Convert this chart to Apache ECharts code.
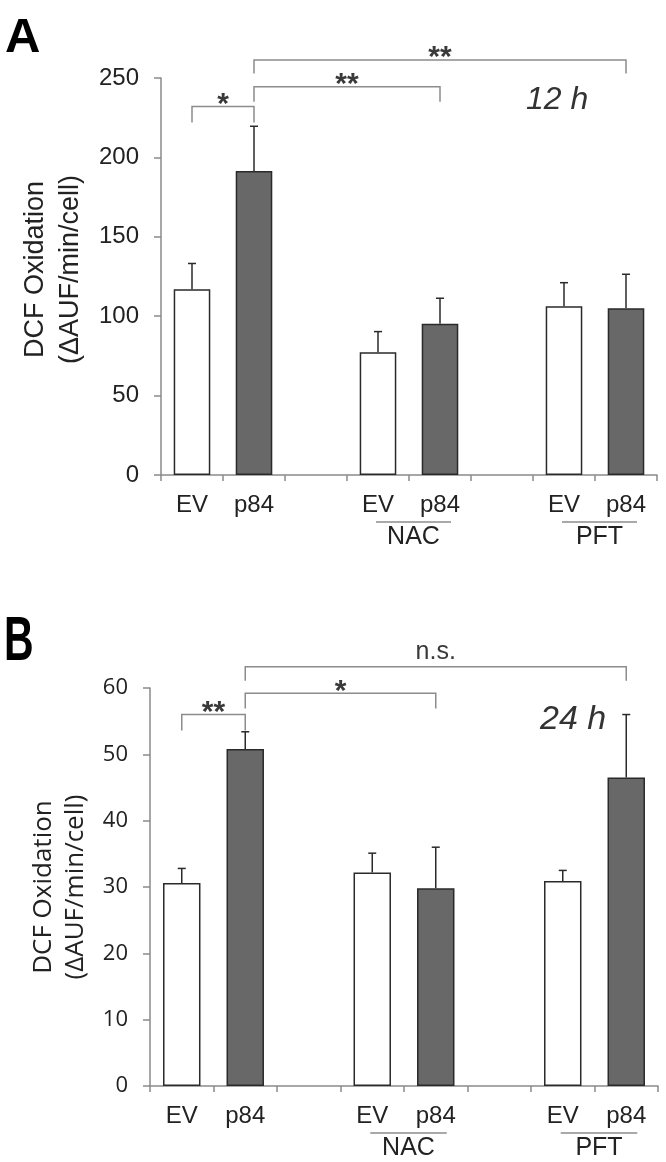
<!DOCTYPE html>
<html><head><meta charset="utf-8">
<script src="https://cdn.jsdelivr.net/npm/echarts@6/dist/echarts.min.js"></script>
<style>html,body{margin:0;padding:0;background:#fff}#c{width:666px;height:1162px}</style>
</head><body><div id="c"></div>
<script>
// ---- data ----
const categories = ['EV', 'p84', '', 'EV', 'p84', '', 'EV', 'p84'];
const meansA = [117.0, 191.5, null, 77.3, 95.3, null, 106.2, 105.0];
const semA   = [16.2, 28.1, null, 13.0, 16.0, null, 14.9, 21.4];
const meansB = [30.6, 50.8, null, 32.2, 29.8, null, 30.9, 46.5];
const semB   = [2.2, 2.6, null, 2.9, 6.2, null, 1.6, 9.5];
const yMaxA = 250, yStepA = 50;
const yMaxB = 60, yStepB = 10;
// significance brackets (category indices, bracket height, leg end, label)
const sigFromA = [0, 1, 1];
const sigToA = [1, 4, 7];
const sigYA = [232, 244.5, 261.3];
const sigDropA = [222, 235, 252.8];
const sigLabelA = ['*', '**', '**'];
const sigFromB = [0, 1, 1];
const sigToB = [1, 4, 7];
const sigYB = [56.0, 59.2, 63.2];
const sigDropB = [53.6, 56.9, 61.1];
const sigLabelB = ['**', '*', 'n.s.'];
// treatment groups under the axis
const groupLabels = ['NAC', 'PFT'];
const groupFrom = [3, 6];
const groupTo = [4, 7];
const timeA = '12 h', timeB = '24 h';
const yTitle = 'DCF Oxidation\n(\u0394AUF/min/cell)';

// ---- styles ----
const ARIAL = "'Liberation Sans', Arial, sans-serif";
const OPEN = "'Open Sans', 'Liberation Sans', sans-serif";
const axisGrey = '#8a8a8a';
const txt = '#222';

function xAxisDef(gi) {
  return {
    type: 'category', gridIndex: gi, data: categories,
    axisLine: {show: true, lineStyle: {color: axisGrey, width: 1.5}},
    axisTick: {show: true, interval: 0, length: 6, lineStyle: {color: axisGrey, width: 1.5}},
    axisLabel: {interval: 0, margin: 18, fontFamily: ARIAL, fontSize: 24, color: txt},
    splitLine: {show: false}
  };
}
function yAxisDef(gi, max, step, labelFont, labelSize, nameFont, nameSize, lh, gap, pad) {
  return {
    type: 'value', gridIndex: gi, min: 0, max: max, interval: step,
    axisLine: {show: true, lineStyle: {color: axisGrey, width: 1.5}},
    axisTick: {show: true, length: 7, lineStyle: {color: axisGrey, width: 1.5}},
    axisLabel: {margin: 22, fontFamily: labelFont, fontSize: labelSize, color: txt},
    splitLine: {show: false},
    name: yTitle, nameLocation: 'middle', nameGap: gap,
    nameTextStyle: {fontFamily: nameFont, fontSize: nameSize, lineHeight: lh, color: txt, align: 'center', padding: pad}
  };
}
function barSeries(idx, means) {
  return {
    type: 'bar', xAxisIndex: idx, yAxisIndex: idx, data: means, barWidth: '59%',
    itemStyle: {
      color: p => categories[p.dataIndex] === 'EV' ? '#ffffff' : '#686868',
      borderColor: '#2a2a2a', borderWidth: 1.5
    },
    silent: true, z: 2
  };
}
function errSeries(idx, means, sems) {
  const data = [];
  means.forEach((m, i) => { if (m != null) data.push([i, m, m + sems[i]]); });
  return {
    type: 'custom', xAxisIndex: idx, yAxisIndex: idx, data: data, z: 4, silent: true,
    encode: {x: 0, y: [1, 2]},
    renderItem: (params, api) => {
      const b = api.coord([api.value(0), api.value(1)]);
      const t = api.coord([api.value(0), api.value(2)]);
      return {type: 'group', children: [
        {type: 'line', shape: {x1: b[0], y1: b[1], x2: t[0], y2: t[1]}, style: {stroke: '#2a2a2a', lineWidth: 1.5}},
        {type: 'line', shape: {x1: t[0] - 4, y1: t[1], x2: t[0] + 4, y2: t[1]}, style: {stroke: '#2a2a2a', lineWidth: 1.5}}
      ]};
    }
  };
}
function sigSeries(idx, from, to, ys, drops, labels) {
  return {
    type: 'custom', xAxisIndex: idx, yAxisIndex: idx, clip: false, silent: true, z: 5,
    data: from.map((f, i) => [f, to[i], ys[i], drops[i]]),
    encode: {x: [0, 1], y: [2, 3]},
    renderItem: (params, api) => {
      const i = params.dataIndex;
      const p1 = api.coord([api.value(0), api.value(2)]);
      const p2 = api.coord([api.value(1), api.value(2)]);
      const d = api.coord([api.value(0), api.value(3)])[1];
      const lab = labels[i];
      const star = lab.indexOf('*') >= 0;
      return {type: 'group', children: [
        {type: 'polyline', shape: {points: [[p1[0], d], [p1[0], p1[1]], [p2[0], p1[1]], [p2[0], d]]},
          style: {stroke: '#8c8c8c', lineWidth: 1.5, fill: null}},
        {type: 'text', x: (p1[0] + p2[0]) / 2, y: star ? p1[1] - 2 : p1[1] - 2,
          style: {text: lab, fill: '#3a3a3a', font: (star ? 'bold 30px ' : '25px ') + ARIAL,
            align: 'center', verticalAlign: star ? 'middle' : 'bottom'}}
      ]};
    }
  };
}
function groupSeries(idx) {
  return {
    type: 'custom', xAxisIndex: idx, yAxisIndex: idx, clip: false, silent: true, z: 5,
    data: groupFrom.map((f, i) => [f, groupTo[i], 0]),
    encode: {x: [0, 1], y: 2},
    renderItem: (params, api) => {
      const i = params.dataIndex;
      const a = api.coord([api.value(0), 0]);
      const b = api.coord([api.value(1), 0]);
      const x1 = a[0] - 2, x2 = b[0] + 11;
      const y0 = a[1];
      return {type: 'group', children: [
        {type: 'line', shape: {x1: x1, y1: y0 + 47, x2: x2, y2: y0 + 47}, style: {stroke: '#555', lineWidth: 1.2}},
        {type: 'text', x: (x1 + x2) / 2, y: y0 + 62,
          style: {text: groupLabels[i], fill: txt, font: '25px ' + ARIAL, align: 'center', verticalAlign: 'middle'}}
      ]};
    }
  };
}

const chart = echarts.init(document.getElementById('c'), null, {renderer: 'canvas'});
chart.setOption({
  animation: false,
  backgroundColor: '#fff',
  grid: [
    {left: 161, top: 78, width: 496, height: 397},
    {left: 150, top: 688, width: 508, height: 398}
  ],
  xAxis: [xAxisDef(0), xAxisDef(1)],
  yAxis: [
    yAxisDef(0, yMaxA, yStepA, ARIAL, 24, ARIAL, 27, 35, 69, [0, 0, 0, 14]),
    yAxisDef(1, yMaxB, yStepB, OPEN, 22, OPEN, 26, 32, 57, [0, 0, 0, 0])
  ],
  series: [
    barSeries(0, meansA), errSeries(0, meansA, semA), sigSeries(0, sigFromA, sigToA, sigYA, sigDropA, sigLabelA), groupSeries(0),
    barSeries(1, meansB), errSeries(1, meansB, semB), sigSeries(1, sigFromB, sigToB, sigYB, sigDropB, sigLabelB), groupSeries(1)
  ],
  graphic: [
    {type: 'text', left: 5, top: 14, style: {text: 'A', font: 'bold 49px ' + ARIAL, fill: '#000'}},
    {type: 'text', x: 4, y: 643, scaleX: 0.65, style: {text: 'B', font: 'bold 63px ' + ARIAL, fill: '#000', verticalAlign: 'middle'}},
    {type: 'text', x: 526, y: 100, style: {text: timeA, font: 'italic 32px ' + ARIAL, fill: '#333', verticalAlign: 'middle'}},
    {type: 'text', x: 540, y: 720, style: {text: timeB, font: 'italic 34px ' + ARIAL, fill: '#333', verticalAlign: 'middle'}}
  ]
});
</script>
</body></html>
